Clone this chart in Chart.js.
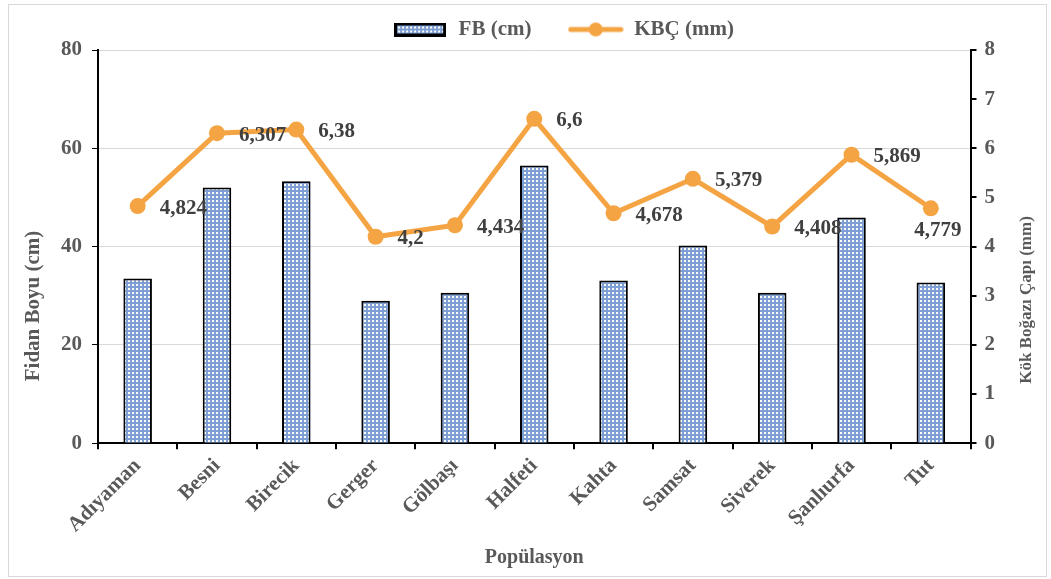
<!DOCTYPE html>
<html>
<head>
<meta charset="utf-8">
<script src="https://cdn.jsdelivr.net/npm/chart.js@4"></script>
<style>
body{margin:0;background:#fff;}
#wrap{position:absolute;left:0;top:0;width:1051px;height:579px;}
</style>
</head>
<body>
<div id="wrap"><canvas id="chart_one"></canvas></div>
<script>

var populations = ['Adıyaman', 'Besni', 'Birecik', 'Gerger', 'Gölbaşı', 'Halfeti', 'Kahta', 'Samsat', 'Siverek', 'Şanlıurfa', 'Tut'];
var fb_values = [33.5, 52.0, 53.3, 29.0, 30.6, 56.5, 33.1, 40.2, 30.6, 45.9, 32.7];
var kbc_values = [4.824, 6.307, 6.38, 4.2, 4.434, 6.6, 4.678, 5.379, 4.408, 5.869, 4.779];

var font_family = "'Liberation Serif', 'Times New Roman', serif";
var text_grey = '#595959';
var orange = '#f4a443';

// little checkered fill like the excel pattern
function make_pattern(){
    var c = document.createElement('canvas');
    c.width = 4; c.height = 4;
    var g = c.getContext('2d');
    g.fillStyle = '#7e9fd4';
    g.fillRect(0, 0, 4, 4);
    g.fillStyle = '#ffffff';
    g.fillRect(0, 0, 2, 2);
    return g.createPattern(c, 'repeat');
}
var bar_pattern = make_pattern();

function legend_bar_img(){
    var c = document.createElement('canvas');
    c.width = 52; c.height = 14;
    var g = c.getContext('2d');
    g.fillStyle = bar_pattern;
    g.fillRect(0, 0, 52, 14);
    g.strokeStyle = '#000';
    g.lineWidth = 3;
    g.strokeRect(1.5, 1.5, 49, 11);
    return c;
}

function legend_line_img(){
    var c = document.createElement('canvas');
    c.width = 56; c.height = 16;
    var g = c.getContext('2d');
    g.strokeStyle = orange;
    g.lineWidth = 5;
    g.lineCap = 'round';
    g.beginPath(); g.moveTo(3, 8); g.lineTo(53, 8); g.stroke();
    g.fillStyle = orange;
    g.beginPath(); g.arc(28, 8, 7, 0, Math.PI * 2); g.fill();
    return c;
}

// value labels next to the line points (excel "right", last one "below")
var label_pos = ['right', 'right', 'right', 'right', 'right', 'right', 'right', 'right', 'right', 'right', 'below'];

var value_labels = {
    id: 'value_labels',
    afterDatasetsDraw: function(chart){
        var ctx = chart.ctx;
        var meta = chart.getDatasetMeta(0);
        ctx.save();
        ctx.font = 'bold 21px ' + font_family;
        ctx.fillStyle = '#404040';
        ctx.textBaseline = 'middle';
        meta.data.forEach(function(pt, i){
            var txt = String(kbc_values[i]).replace('.', ',');
            if (label_pos[i] == 'below') {
                ctx.textAlign = 'center';
                ctx.fillText(txt, pt.x + 7, pt.y + 22);
            } else {
                ctx.textAlign = 'left';
                ctx.fillText(txt, pt.x + 22, pt.y + 2);
            }
        });
        ctx.restore();
    }
};

// excel puts both axis titles a bit below the middle, both reading upwards
var axis_titles = {
    id: 'axis_titles',
    afterDraw: function(chart){
        var ctx = chart.ctx;
        ctx.save();
        ctx.fillStyle = text_grey;
        ctx.textAlign = 'center';
        ctx.textBaseline = 'middle';
        ctx.font = 'bold 21px ' + font_family;
        ctx.translate(34, 306);
        ctx.rotate(-Math.PI / 2);
        ctx.fillText('Fidan Boyu (cm)', 0, 0);
        ctx.restore();
        ctx.save();
        ctx.fillStyle = text_grey;
        ctx.textAlign = 'center';
        ctx.textBaseline = 'middle';
        ctx.font = 'bold 17px ' + font_family;
        ctx.translate(1027, 300);
        ctx.rotate(-Math.PI / 2);
        ctx.fillText('Kök Boğazı Çapı (mm)', 0, 0);
        ctx.restore();
    }
};

var frame = {
    id: 'frame',
    beforeDraw: function(chart){
        var ctx = chart.ctx;
        ctx.save();
        ctx.fillStyle = '#fff';
        ctx.fillRect(0, 0, chart.width, chart.height);
        ctx.strokeStyle = '#d9d9d9';
        ctx.lineWidth = 1;
        ctx.strokeRect(8.5, 4.5, 1038, 572);
        ctx.restore();
    },
    afterLayout: function(chart){
        // legend sits right of centre in the original
        chart.legend.left += 36;
        chart.legend.right += 36;
    }
};

var ctx = document.getElementById('chart_one').getContext('2d');
var chart = new Chart(ctx, {
    data: {
        labels: populations,
        datasets: [{
            type: 'line',
            label: 'KBÇ (mm)',
            data: kbc_values,
            yAxisID: 'y2',
            borderColor: orange,
            backgroundColor: orange,
            borderWidth: 5,
            pointRadius: 8,
            pointHoverRadius: 8,
            pointBorderWidth: 0,
            tension: 0,
            order: 0
        }, {
            type: 'bar',
            label: 'FB (cm)',
            data: fb_values,
            yAxisID: 'y',
            backgroundColor: bar_pattern,
            borderColor: '#000',
            borderWidth: 2,
            barPercentage: 0.36,
            categoryPercentage: 1,
            order: 1
        }]
    },
    options: {
        responsive: true,
        maintainAspectRatio: false,
        animation: false,
        layout: {padding: {left: 51, right: 48, top: 9, bottom: 9}},
        plugins: {
            tooltip: {enabled: false},
            legend: {
                position: 'top',
                labels: {
                    usePointStyle: true,
                    pointStyleWidth: 56,
                    padding: 10,
                    color: text_grey,
                    font: {family: font_family, size: 21, weight: 'bold'},
                    generateLabels: function(chart){
                        return [
                            {text: 'FB (cm)     ', pointStyle: legend_bar_img(), fontColor: text_grey, datasetIndex: 1, lineWidth: 0},
                            {text: 'KBÇ (mm)', pointStyle: legend_line_img(), fontColor: text_grey, datasetIndex: 0, lineWidth: 0}
                        ];
                    }
                }
            }
        },
        scales: {
            x: {
                grid: {display: true, drawOnChartArea: false, drawTicks: true, tickLength: 6, color: '#000', lineWidth: 2, offset: true},
                border: {display: true, color: '#000', width: 2},
                ticks: {color: text_grey, font: {family: font_family, size: 21, weight: 'bold'}, minRotation: 45, maxRotation: 45, autoSkip: false, padding: 4.5},
                title: {display: true, text: 'Popülasyon', color: text_grey, font: {family: font_family, size: 20, weight: 'bold'}, padding: {top: 4, bottom: 0}}
            },
            y: {
                position: 'left',
                min: 0, max: 80,
                ticks: {stepSize: 20, color: text_grey, font: {family: font_family, size: 21, weight: 'bold'}, padding: 10},
                grid: {color: '#d9d9d9', lineWidth: 1, tickColor: '#000', tickLength: 6, drawTicks: true},
                border: {display: true, color: '#000', width: 2}
            },
            y2: {
                position: 'right',
                min: 0, max: 8,
                ticks: {stepSize: 1, color: text_grey, font: {family: font_family, size: 21, weight: 'bold'}, padding: 8},
                grid: {drawOnChartArea: false, color: '#000', tickColor: '#000', tickLength: 6, lineWidth: 2},
                border: {display: true, color: '#000', width: 2}
            }
        }
    },
    plugins: [frame, value_labels, axis_titles]
});

</script>
</body>
</html>
